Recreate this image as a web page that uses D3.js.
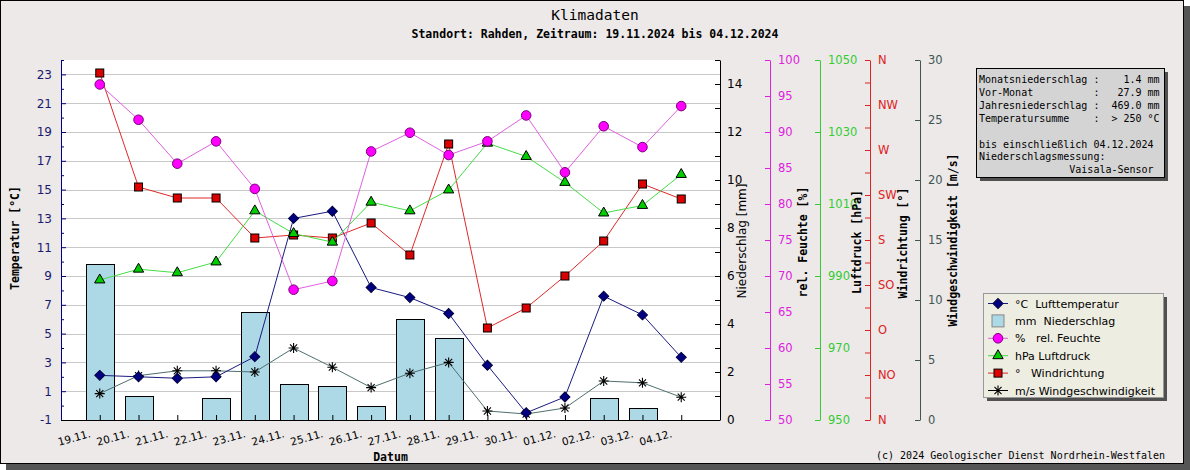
<!DOCTYPE html>
<html><head><meta charset="utf-8">
<script src="https://cdn.jsdelivr.net/npm/d3@7"></script>
<style>
html,body{margin:0;padding:0;background:#fff;}
svg text{font-family:"DejaVu Sans",sans-serif;}
.mono{font-family:"DejaVu Sans Mono",monospace !important;}
</style></head>
<body><svg id="c" width="1190" height="470"></svg>
<script>
const categories = ["19.11.","20.11.","21.11.","22.11.","23.11.","24.11.","25.11.","26.11.","27.11.","28.11.","29.11.","30.11.","01.12.","02.12.","03.12.","04.12."];
const temperature = [2.1,2.0,1.9,2.0,3.4,13.0,13.5,8.2,7.5,6.4,2.8,-0.5,0.6,7.6,6.3,3.35];
const precipitation = [6.5,1.0,0,0.9,4.5,1.5,1.4,0.6,4.2,3.4,0,0,0,0.9,0.5,0];
const humidity = [96.6,91.7,85.6,88.7,82.1,68.1,69.3,87.3,89.9,86.8,88.7,92.3,84.4,90.8,87.9,93.6];
const pressure = [988.9,991.9,990.9,993.9,1008.1,1001.8,999.4,1010.5,1008.1,1013.9,1026.9,1023.2,1016.0,1007.5,1009.6,1018.2];
const windDirection = [347,233,222,222,182,185,182,197,165,276,92,112,144,179,236,221];
const windSpeed = [2.2,3.7,4.1,4.1,4.0,6.0,4.4,2.7,3.9,4.8,0.75,0.5,1.0,3.25,3.1,1.9];
const directionLabels = ["N","NO","O","SO","S","SW","W","NW","N"];
const infoLines = ["Monatsniederschlag :    1.4 mm","Vor-Monat          :   27.9 mm","Jahresniederschlag :  469.0 mm","Temperatursumme    :  > 250 °C","","bis einschließlich 04.12.2024","Niederschlagsmessung:","               Vaisala-Sensor"];
const legendItems = [
  {key:"temp", text:"°C  Lufttemperatur"},
  {key:"prec", text:"mm  Niederschlag"},
  {key:"hum",  text:"%   rel. Feuchte"},
  {key:"pres", text:"hPa Luftdruck"},
  {key:"dir",  text:"°   Windrichtung"},
  {key:"spd",  text:"m/s Windgeschwindigkeit"}
];

const svg = d3.select("#c");
const L=61, R=720, T=60, B=420;

// frame
svg.append("rect").attr("x",6).attr("y",6).attr("width",1184).attr("height",464).attr("fill","#555");
svg.append("rect").attr("x",0.5).attr("y",0.5).attr("width",1183).attr("height",463).attr("fill","#ECE9E8").attr("stroke","#000");

// plot bg
svg.append("rect").attr("x",L).attr("y",T).attr("width",R-L).attr("height",B-T).attr("fill","#fff");

const x = d3.scalePoint().domain(categories).range([L,R]).padding(1);
const yT = d3.scaleLinear().domain([-1,24]).range([B,T]);
const yP = d3.scaleLinear().domain([0,15]).range([B,T]);
const yH = d3.scaleLinear().domain([50,100]).range([B,T]);
const yA = d3.scaleLinear().domain([950,1050]).range([B,T]);
const yD = d3.scaleLinear().domain([0,360]).range([B,T]);
const yS = d3.scaleLinear().domain([0,30]).range([B,T]);

const odd = d3.range(-1,24,2), even = d3.range(0,25,2);
const plain = d=>String(d);

// grid
svg.append("g").selectAll("line").data(odd.filter(v=>v>-1)).join("line")
  .attr("x1",L).attr("x2",R).attr("y1",d=>Math.round(yT(d))+0.5).attr("y2",d=>Math.round(yT(d))+0.5)
  .attr("stroke","#c8c8c8");

// bars
const bw = x.step()*0.72;
svg.append("g").selectAll("rect").data(precipitation.map((v,i)=>({v,c:categories[i]})).filter(d=>d.v>0)).join("rect")
  .attr("x",d=>Math.round(x(d.c)-bw/2)+0.5).attr("y",d=>Math.round(yP(d.v))+0.5)
  .attr("width",Math.round(bw)).attr("height",d=>Math.round(yP(0)-yP(d.v)))
  .attr("fill","#ADD8E6").attr("stroke","#000");

function styleAxis(g,color,font){
  g.select(".domain").attr("stroke",color);
  g.selectAll(".tick line").attr("stroke",color);
  g.selectAll(".tick text").attr("fill",color).attr("font-size",font||11).attr("font-family","DejaVu Sans");
}

// left axis
const gl = svg.append("g").attr("transform",`translate(${L},0)`)
  .call(d3.axisLeft(yT).tickValues(odd).tickSize(-5).tickSizeOuter(0).tickPadding(9).tickFormat(plain));
styleAxis(gl,"#000080",12);
gl.selectAll(".tick text").attr("fill","#1a1a6e");
const gl2 = svg.append("g").attr("transform",`translate(${L},0)`)
  .call(d3.axisLeft(yT).tickValues(even).tickSize(-3).tickFormat(""));
gl2.select(".domain").remove(); gl2.selectAll(".tick line").attr("stroke","#000080");

// bottom axis
const gb = svg.append("g").attr("transform",`translate(0,${B})`)
  .call(d3.axisBottom(x).tickSize(-5).tickSizeOuter(0));
gb.select(".domain").attr("stroke","#000").attr("d",`M${L},0.5H${R}`);
gb.selectAll(".tick line").attr("stroke","#000");
gb.selectAll(".tick text").attr("y",0).attr("dy",0).attr("text-anchor","end")
  .attr("transform","translate(-9,17) rotate(-15)")
  .attr("font-family","Liberation Sans").attr("font-size",10.5).attr("fill","#000");

// precipitation axis
const gp = svg.append("g").attr("transform",`translate(${R},0)`)
  .call(d3.axisRight(yP).tickValues(d3.range(0,15,2)).tickSize(-5).tickSizeOuter(0).tickPadding(7).tickFormat(plain));
styleAxis(gp,"#000",12);
const gp2 = svg.append("g").attr("transform",`translate(${R},0)`)
  .call(d3.axisRight(yP).tickValues(d3.range(1,16,2)).tickSize(-5).tickFormat(""));
gp2.select(".domain").remove(); gp2.selectAll(".tick line").attr("stroke","#000");

function rightAxis(xpos,scale,vals,color,fmt){
  const g = svg.append("g").attr("transform",`translate(${xpos},0)`)
    .call(d3.axisRight(scale).tickValues(vals).tickSize(-5).tickSizeOuter(0).tickPadding(8).tickFormat(fmt||plain));
  styleAxis(g,color,11.5);
  return g;
}
rightAxis(770,yH,d3.range(50,101,5),"#DD22DD");
rightAxis(820,yA,d3.range(950,1051,20),"#33CC33");
rightAxis(870,yD,d3.range(0,361,22.5),"#DD2222",d=>(d%45===0?directionLabels[d/45]:""));
rightAxis(920,yS,d3.range(0,31,5),"#405555");

// axis titles
function vtitle(xp,yp,txt,opts){
  const t = svg.append("text").attr("transform",`translate(${xp},${yp}) rotate(-90)`)
    .attr("text-anchor","middle").attr("dominant-baseline","central").text(txt);
  if(opts.mono) t.attr("class","mono").attr("font-weight","bold");
  t.attr("font-size",opts.size).attr("fill",opts.color||"#000");
  return t;
}
vtitle(14.5,238,"Temperatur [°C]",{mono:true,size:11.5});
vtitle(742,241,"Niederschlag [mm]",{mono:false,size:12});
vtitle(803,242,"rel. Feuchte [%]",{mono:true,size:11.5});
vtitle(857,242,"Luftdruck [hPa]",{mono:true,size:11.5});
vtitle(903,243,"Windrichtung [°]",{mono:true,size:11.5});
vtitle(953,240,"Windgeschwindigkeit [m/s]",{mono:true,size:11.5});

svg.append("text").attr("class","mono").attr("x",390.5).attr("y",461).attr("text-anchor","middle")
  .attr("font-weight","bold").attr("font-size",11.5).text("Datum");

// titles
svg.append("text").attr("class","mono").attr("x",595).attr("y",19.5).attr("text-anchor","middle")
  .attr("font-size",14.5).text("Klimadaten");
svg.append("text").attr("class","mono").attr("x",595).attr("y",38).attr("text-anchor","middle")
  .attr("font-weight","bold").attr("font-size",11.5).text("Standort: Rahden, Zeitraum: 19.11.2024 bis 04.12.2024");

// series
function star(r){ const p=d3.path(); const k=r*0.7071;
  p.moveTo(-r,0);p.lineTo(r,0);p.moveTo(0,-r);p.lineTo(0,r);p.moveTo(-k,-k);p.lineTo(k,k);p.moveTo(-k,k);p.lineTo(k,-k); return p.toString(); }
const markers = {
  temp:{line:"#1a1a80", draw:g=>g.append("path").attr("d",d3.symbol(d3.symbolSquare,50)()).attr("transform","rotate(45)").attr("fill","#000080").attr("stroke","#000040")},
  hum:{line:"#E060E0", draw:g=>g.append("circle").attr("r",4.8).attr("fill","#FF00FF").attr("stroke","#7a007a")},
  pres:{line:"#44DD44", draw:g=>g.append("path").attr("d",d3.symbol(d3.symbolTriangle,46)()).attr("fill","#00CC00").attr("stroke","#000")},
  dir:{line:"#E02828", draw:g=>g.append("rect").attr("x",-4).attr("y",-4).attr("width",8).attr("height",8).attr("fill","#DD0000").attr("stroke","#000")},
  spd:{line:"#4F6F6F", draw:g=>g.append("path").attr("d",star(5)).attr("stroke","#000").attr("stroke-width",1.1).attr("fill","none")}
};
function series(vals,scale,key){
  const m = markers[key];
  const pts = vals.map((v,i)=>[x(categories[i]),scale(v)]);
  svg.append("path").attr("d",d3.line()(pts)).attr("fill","none").attr("stroke",m.line).attr("stroke-width",1);
  pts.forEach(p=>{ const g=svg.append("g").attr("transform",`translate(${p[0]},${p[1]})`); m.draw(g); });
}
series(windSpeed,yS,"spd");
series(temperature,yT,"temp");
series(windDirection,yD,"dir");
series(pressure,yA,"pres");
series(humidity,yH,"hum");

// info box
svg.append("rect").attr("x",980).attr("y",72).attr("width",188).attr("height",109).attr("fill","#505050");
svg.append("rect").attr("x",976.5).attr("y",68.5).attr("width",188).attr("height",109).attr("fill","#D4D4D4").attr("stroke","#000");
svg.append("g").selectAll("text").data(infoLines).join("text").attr("class","mono")
  .attr("x",979).attr("y",(d,i)=>83+i*12.9).attr("font-size",10).attr("xml:space","preserve")
  .style("white-space","pre").text(d=>d);

// legend
svg.append("rect").attr("x",987).attr("y",297).attr("width",180).attr("height",104).attr("fill","#505050");
svg.append("rect").attr("x",983.5).attr("y",293.5).attr("width",180).attr("height",104).attr("fill","#EEEDE1").attr("stroke","#999");
const lg = svg.append("g").selectAll("g").data(legendItems).join("g")
  .attr("transform",(d,i)=>`translate(998,${303.5+i*17.4})`);
lg.each(function(d){
  const g=d3.select(this);
  if(d.key==="prec"){
    g.append("rect").attr("x",-6).attr("y",-6).attr("width",12).attr("height",12).attr("fill","#ADD8E6").attr("stroke","#888");
  } else {
    g.append("line").attr("x1",-10).attr("x2",10).attr("stroke",d.key==="spd"?"#000":markers[d.key].line);
    const mg=g.append("g"); markers[d.key].draw(mg);
  }
  g.append("text").attr("x",17).attr("y",4).attr("font-size",11).style("white-space","pre").attr("xml:space","preserve").text(d.text);
});

// copyright
svg.append("text").attr("class","mono").attr("x",1165).attr("y",459).attr("text-anchor","end")
  .attr("font-size",10).text("(c) 2024 Geologischer Dienst Nordrhein-Westfalen");
</script></body></html>
